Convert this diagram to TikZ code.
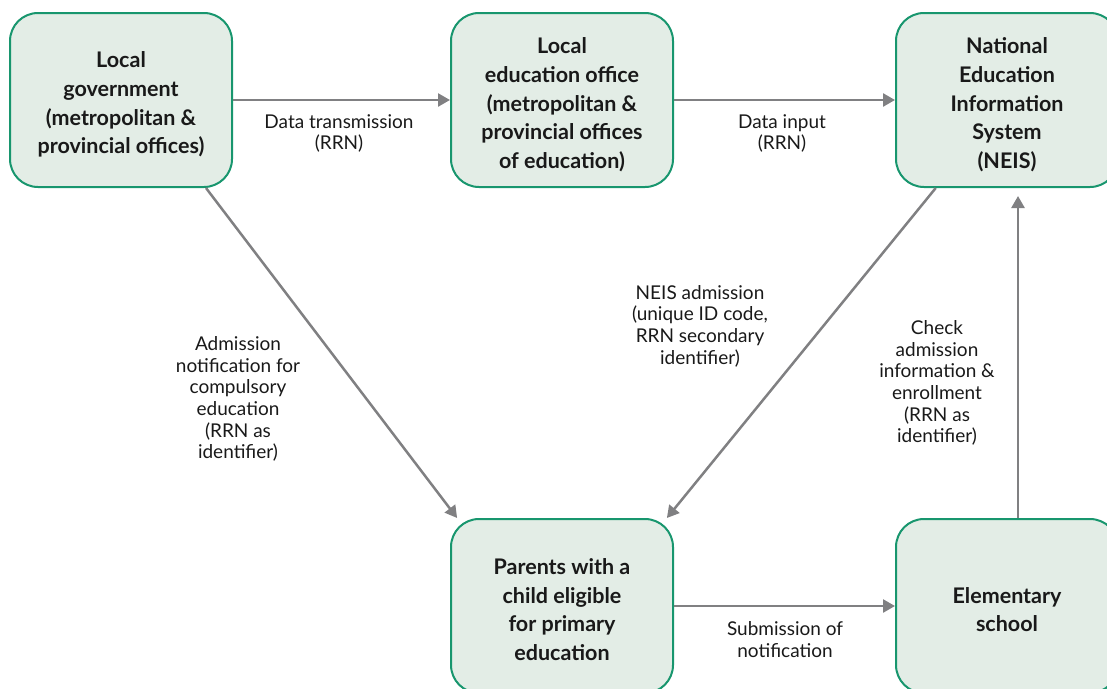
\documentclass[tikz,border=0pt]{standalone}
\usepackage{fontspec}
\setmainfont{Lato}
\usetikzlibrary{arrows.meta,calc}
\definecolor{boxfill}{RGB}{227,237,230}
\definecolor{boxline}{RGB}{24,150,110}
\definecolor{arrowgray}{RGB}{128,128,130}
\definecolor{txt}{RGB}{25,25,25}
\tikzset{
  box/.style={draw=boxline, line width=2pt, fill=boxfill, rounded corners=28pt,
    minimum width=222pt, minimum height=174pt, inner sep=0pt},
  boxtext/.style={align=center, text=txt,
    font=\fontsize{21.5}{28.7}\selectfont\bfseries, inner sep=0pt},
  conn/.style={draw=arrowgray, line width=2.5pt, -{Triangle[length=12pt,width=13pt]}},
  lbl/.style={align=center, text=txt, font=\fontsize{19}{21.7}\selectfont, inner sep=0pt}
}
\begin{document}
\begin{tikzpicture}[x=1pt,y=-1pt]
\useasboundingbox (0,0) rectangle (1107,688);
\clip (0,0) rectangle (1107,688);
\node[box] (b1) at (121,100) {};
\node[box] (b2) at (562,100) {};
\node[box] (b3) at (1007,100) {};
\node[box] (b4) at (562,606) {};
\node[box] (b5) at (1007,606) {};
\node[boxtext] (t1) at ($(b1.center)+(0,4.5)$) {Local\\government\\(metropolitan \&\\provincial offices)};
\node[boxtext] (t2) at ($(b2.center)+(0,5)$) {Local\\education office\\(metropolitan \&\\provincial offices\\of education)};
\node[boxtext] (t3) at ($(b3.center)+(0,5)$) {National\\Education\\Information\\System\\(NEIS)};
\node[boxtext] (t4) at ($(b4.center)+(0,3.5)$) {Parents with a\\child eligible\\for primary\\education};
\node[boxtext] (t5) at ($(b5.center)+(0,3.5)$) {Elementary\\school};
\draw[conn] (b1.east) -- (b2.west);
\draw[conn] (b2.east) -- (b3.west);
\draw[conn] (b1.-46) -- (b4.140.5);
\draw[conn] (b3.-129.6) -- (b4.40);
\draw[conn] ($(b5.north)+(11,0)$) -- ($(b3.south)+(11,8)$);
\draw[conn] (b4.east) -- (b5.west);
\node[lbl] (l1) at (339,133.5) {Data transmission\\(RRN)};
\node[lbl] (l2) at (782,133.5) {Data input\\(RRN)};
\node[lbl] (l3) at (238,399) {Admission\\notification for\\compulsory\\education\\(RRN as\\identifier)};
\node[lbl] (l4) at (700,326) {NEIS admission\\(unique ID code,\\RRN secondary\\identifier)};
\node[lbl] (l5) at (937,383) {Check\\admission\\information \&\\enrollment\\(RRN as\\identifier)};
\node[lbl] (l6) at (785,639.5) {Submission of\\notification};
\end{tikzpicture}
\end{document}
